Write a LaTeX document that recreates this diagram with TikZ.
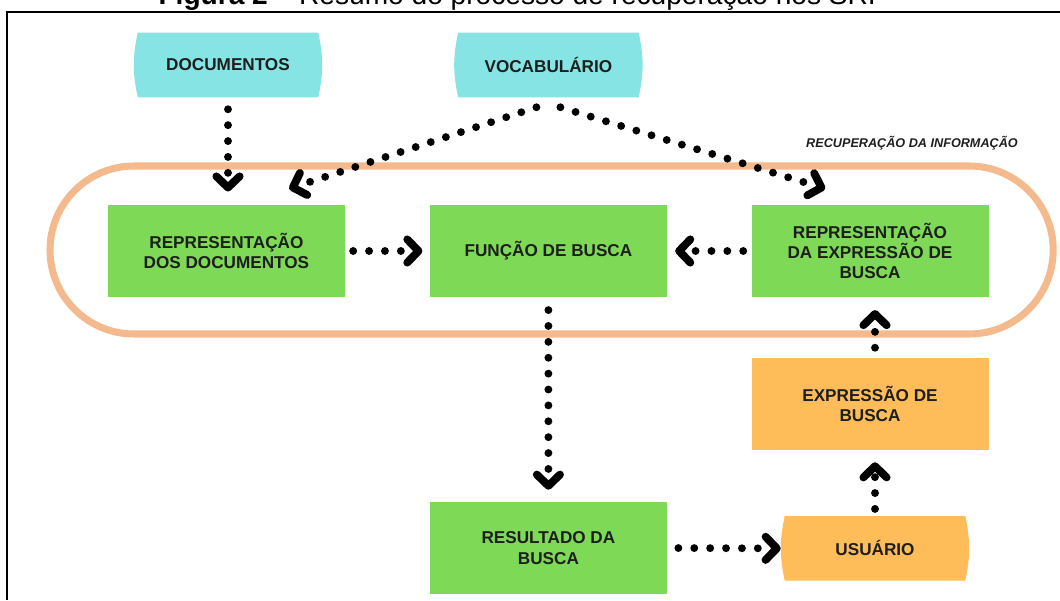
\documentclass[tikz,border=0pt]{standalone}
\usepackage{fontspec}
\setmainfont{Liberation Sans}
\usetikzlibrary{calc}
\usetikzlibrary{arrows.meta}
\usetikzlibrary{backgrounds}

\definecolor{turquesa}{RGB}{135,228,228}
\definecolor{verde}{RGB}{126,217,87}
\definecolor{laranja}{RGB}{255,189,89}
\definecolor{pessego}{RGB}{244,186,142}
\definecolor{texto}{RGB}{30,30,30}

\providecommand*{\pgfmathsetnewmacro}[2]{%
    \newcommand*{#1}{}% Error if already defined
    \pgfmathsetmacro{#1}{#2}%
}

\begin{document}
\begin{tikzpicture}[%
        scale = 1,
        font = \fontsize{12.2}{14.5}\selectfont\bfseries,
        text = texto,
        caixa/.style = {rectangle, fill = verde, minimum width = 5.925cm,
            minimum height = 2.3cm, align = center, inner sep = 0pt},
        terminal/.style = {rectangle, minimum width = 4.5cm,
            minimum height = 1.6cm, align = center, inner sep = 0pt},
        pontos/.style = {line width = 5.6pt, line cap = round,
            dash pattern = on 0pt off 11.3pt,
            -{Straight Barb[round, length = 2.8mm, width = 5.8mm]}},
        ]


\useasboundingbox[clip] (0,0) rectangle (26.5,15);

\pgfmathsetnewmacro{\colI}{5.66}
\pgfmathsetnewmacro{\colII}{13.71}
\pgfmathsetnewmacro{\colIII}{21.75}
\pgfmathsetnewmacro{\linI}{13.375}
\pgfmathsetnewmacro{\linII}{8.725}

% moldura e titulo
\draw[line width = 1.2pt, black] (0.175,0) -- (0.175,14.7) -- (26.5,14.7);
\node (titulo) [anchor = base, text = black, font = \fontsize{20}{24}\selectfont]
    at (12.93,14.875) {\textbf{Figura 2} – Resumo do processo de recuperação nos SRI};

\draw[pessego, line width = 5pt, rounded corners = 2.1cm] (1.25,6.65) rectangle (26.33,10.85);
\node (ri) [font = \fontsize{9}{11}\selectfont\bfseries\itshape] at (22.8,11.425)
    {RECUPERAÇÃO DA INFORMAÇÃO};

\node (docs) [terminal] at (5.7,\linI) {DOCUMENTOS};
\node (vocab) [terminal] at (\colII,\linI) {VOCABULÁRIO};
\node (usuario) [terminal] at (21.875,1.29) {USUÁRIO};

\node (repdocs) [caixa] at (\colI,\linII) {REPRESENTAÇÃO\\DOS DOCUMENTOS};
\node (busca) [caixa] at (\colII,\linII) {FUNÇÃO DE BUSCA};
\node (repexpr) [caixa] at (\colIII,\linII) {REPRESENTAÇÃO\\DA EXPRESSÃO DE\\BUSCA};
\node (expr) [caixa, fill = laranja] at (\colIII,4.9) {EXPRESSÃO DE\\BUSCA};
\node (result) [caixa] at (\colII,1.3) {RESULTADO DA\\BUSCA};

\begin{scope}[on background layer]
    \foreach \NOME/\COR in {docs/turquesa,vocab/turquesa,usuario/laranja}{%
        \fill[\COR] (\NOME.north west) to[bend right = 12] (\NOME.south west)
            -- (\NOME.south east) to[bend right = 12] (\NOME.north east) -- cycle;
        }
\end{scope}

\coordinate (v1) at ($(vocab.south)+(-0.3,-0.25)$);
\coordinate (v2) at ($(vocab.south)+(0.3,-0.25)$);
\coordinate (p1) at ($(repdocs.north east)+(-1.4,0.4)$);
\coordinate (p2) at ($(repexpr.north west)+(1.85,0.4)$);

\draw[pontos] (v1) -- (p1);
\draw[pontos] (v2) -- (p2);
\draw[pontos, shorten <=0.3cm, shorten >=0.33cm] (docs.south) -- (docs.south |- repdocs.north);

\foreach \DE/\PARA/\INI/\FIM in {repdocs.east/busca.west/0.2cm/0.18cm,
        repexpr.west/busca.east/0.2cm/0.2cm,
        busca.south/result.north/0.32cm/0.3cm,
        result.east/usuario.west/0.28cm/0.1cm}{%
    \draw[pontos, shorten <=\INI, shorten >=\FIM] (\DE) -- (\PARA);
    }

\draw[pontos, shorten <=0.18cm, shorten >=0.3cm] (usuario.north) -- (usuario.north |- expr.south);
\draw[pontos, shorten <=0.25cm, shorten >=0.32cm] (usuario.north |- expr.north) -- (usuario.north |- repexpr.south);

\end{tikzpicture}
\end{document}
